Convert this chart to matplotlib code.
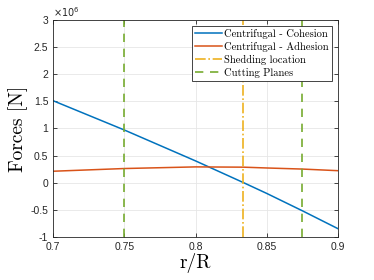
import numpy as np
import matplotlib
matplotlib.use("Agg")
import matplotlib.pyplot as plt

plt.rcParams['mathtext.fontset'] = 'cm'
plt.rcParams['font.family'] = ['Liberation Sans', 'DejaVu Sans']
plt.rcParams['axes.unicode_minus'] = False

# data
r_pts = [0.70, 0.75, 0.80, 0.8336, 0.85, 0.875, 0.90]
cohesion = [1.51e6, 0.97e6, 0.40e6, 0.0, -0.20e6, -0.52e6, -0.85e6]
adhesion = [0.21e6, 0.26e6, 0.29e6, 0.285e6, 0.27e6, 0.25e6, 0.22e6]
shedding = 0.8336
cutting = [0.75, 0.875]

c_blue = '#0072BD'
c_red = '#D95319'
c_yel = '#EDB120'
c_grn = '#77AC30'
serif = 'cmr10'

fig = plt.figure(figsize=(3.74, 2.8), dpi=100)
ax = fig.add_axes([0.142, 0.154, 0.762, 0.775])

ax.plot(r_pts, cohesion, color=c_blue, lw=1.1, label='Centrifugal - Cohesion')
ax.plot(r_pts, adhesion, color=c_red, lw=1.1, label='Centrifugal - Adhesion')
ax.axvline(shedding, color=c_yel, lw=1.2, ls='-.', label='Shedding location')
for i, c in enumerate(cutting):
    ax.axvline(c, color=c_grn, lw=1.2, ls=(0, (5, 4)),
               label='Cutting Planes' if i == 0 else None)

ax.set_xlim(0.7, 0.9)
ax.set_ylim(-1e6, 3e6)
ax.set_xticks([0.7, 0.75, 0.8, 0.85, 0.9])
ax.set_xticklabels(['0.7', '0.75', '0.8', '0.85', '0.9'])
yt = np.arange(-1, 3.01, 0.5)
ax.set_yticks(yt * 1e6)
ax.set_yticklabels(['%g' % v for v in yt])
ax.text(0.0, 1.005, r'$\times10^{6}$', transform=ax.transAxes, fontsize=7,
        color='#262626', ha='left', va='bottom', math_fontfamily='dejavusans')

ax.grid(True, color='#e6e6e6', lw=0.6)
ax.set_axisbelow(True)
ax.tick_params(direction='in', length=3, width=0.6, labelsize=7.5,
               colors='#262626', top=True, right=True)
for s in ax.spines.values():
    s.set_color('#262626')
    s.set_linewidth(0.6)

ax.set_xlabel('r/R', fontsize=14, labelpad=1, family=serif)
ax.set_ylabel('Forces [N]', fontsize=14, labelpad=2, family=serif)

leg = ax.legend(loc='upper right', prop={'family': serif, 'size': 7.6},
                handlelength=2.55, handletextpad=0.2, labelspacing=0.28,
                borderpad=0.3, borderaxespad=0.55, fancybox=False, framealpha=1)
leg.get_frame().set_edgecolor('#262626')
leg.get_frame().set_linewidth(0.6)

fig.savefig('out.png', dpi=100)
